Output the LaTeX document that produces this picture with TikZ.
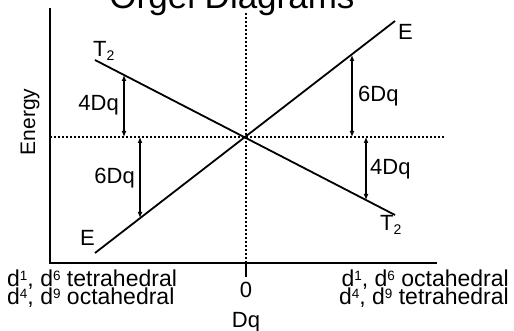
\documentclass[tikz,border=0pt]{standalone}
\usepackage{fontspec}
\setmainfont{Liberation Sans}
\usetikzlibrary{arrows.meta}
\newcommand\mysup[1]{\raisebox{5.5pt}{\fontsize{13.5}{13.5}\selectfont #1}}
\newcommand\mysub[1]{\raisebox{-4pt}{\fontsize{14}{14}\selectfont #1}}
\begin{document}
\begin{tikzpicture}[x=1pt,y=-1pt,
  axis/.style={line width=2pt},
  guide/.style={line width=1.8pt, dash pattern=on 1.8pt off 2.2pt},
  level/.style={line width=1.8pt},
  gap/.style={line width=1.4pt, {Latex[length=6pt,width=5pt]}-{Latex[length=6pt,width=5pt]}},
  lbl/.style={inner sep=0pt, font=\fontsize{22}{24}\selectfont},
  casetext/.style={inner sep=0pt, font=\fontsize{23}{24}\selectfont},
  ttl/.style={inner sep=0pt, font=\fontsize{35}{38}\selectfont}]
\useasboundingbox (0,0) rectangle (514,331);
% axes
\coordinate (ytop) at (50,8);
\coordinate (orig) at (50,263);
\coordinate (xend) at (437,263);
\draw[axis] (ytop) -- (orig) -- (xend);
\coordinate (tk0) at (246,263);
\coordinate (tk1) at (246,277);
\draw[axis] (tk0) -- (tk1);
% guides
\coordinate (gtop) at (246,13);
\coordinate (gl) at (50,137);
\coordinate (gr) at (444,137);
\draw[guide] (gtop) -- (tk0);
\draw[guide] (gl) -- (gr);
% levels
\coordinate (t2a) at (95,60);
\coordinate (t2b) at (395,215);
\coordinate (ea) at (95,253);
\coordinate (eb) at (395,21);
\draw[level] (t2a) -- (t2b);
\draw[level] (ea) -- (eb);
% gaps
\coordinate (a1t) at (124,75);
\coordinate (a1b) at (124,137);
\coordinate (a2t) at (140,137);
\coordinate (a2b) at (140,218);
\coordinate (a3t) at (352,55);
\coordinate (a3b) at (352,137);
\coordinate (a4t) at (366,137);
\coordinate (a4b) at (366,200);
\draw[gap] (a1t) -- (a1b);
\draw[gap] (a2t) -- (a2b);
\draw[gap] (a3t) -- (a3b);
\draw[gap] (a4t) -- (a4b);
% labels
\node[lbl, anchor=base east] (l4l) at (119,111) {4Dq};
\node[lbl, anchor=base east] (l6l) at (135,184) {6Dq};
\node[lbl, anchor=base west] (l6r) at (358,102) {6Dq};
\node[lbl, anchor=base west] (l4r) at (370,175) {4Dq};
\node[lbl, anchor=base west] (nt2a) at (93,57) {T\mysub{2}};
\node[lbl, anchor=base west] (neb) at (398,40) {E};
\node[lbl, anchor=base west] (nt2b) at (380,231) {T\mysub{2}};
\node[lbl, anchor=base west] (nea) at (80,245) {E};
\node[casetext, anchor=base west] (bl1) at (7,286) {d\mysup{1}, d\mysup{6} tetrahedral};
\node[casetext, anchor=base west] (bl2) at (7,304) {d\mysup{4}, d\mysup{9} octahedral};
\node[casetext, anchor=base east] (br1) at (509,286) {d\mysup{1}, d\mysup{6} octahedral};
\node[casetext, anchor=base east] (br2) at (509,304) {d\mysup{4}, d\mysup{9} tetrahedral};
\node[lbl, anchor=base] (zero) at (246,297) {0};
\node[lbl, anchor=base] (dq) at (246,327) {Dq};
\node[inner sep=0pt, font=\fontsize{21}{23}\selectfont, rotate=90] (energy) at (30,122) {Energy};
\node[ttl, anchor=base] (title) at (232,9) {Orgel Diagrams};
\end{tikzpicture}
\end{document}
